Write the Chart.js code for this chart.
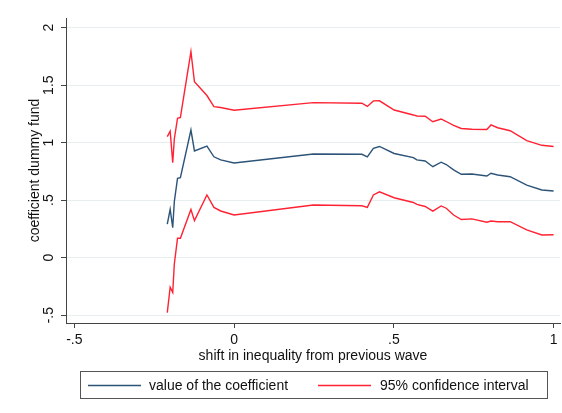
<!DOCTYPE html>
<html lang="en">
<head>
    <meta charset="UTF-8">
    <title>coefficient dummy fund</title>
    <script src="https://cdn.jsdelivr.net/npm/chart.js"></script>
    <style>
        body { margin: 0; background: #fff; }
    </style>
</head>
<body>
    <canvas id="coefChart" width="562" height="413"></canvas>

    <script>
        // shift in inequality from previous wave
        const shiftX = [-0.209, -0.200, -0.192, -0.187, -0.177, -0.168, -0.135, -0.124, -0.085, -0.063,
            -0.042, 0.000, 0.248, 0.400, 0.417, 0.436, 0.455, 0.501, 0.561, 0.572,
            0.598, 0.622, 0.648, 0.664, 0.687, 0.711, 0.744, 0.791, 0.804, 0.825,
            0.864, 0.916, 0.963, 1.000];
        const coefValues = [0.291, 0.421, 0.261, 0.487, 0.690, 0.696, 1.110, 0.928, 0.971, 0.877,
            0.850, 0.823, 0.902, 0.899, 0.877, 0.951, 0.967, 0.906, 0.870, 0.850,
            0.841, 0.791, 0.830, 0.810, 0.763, 0.725, 0.728, 0.710, 0.734, 0.719,
            0.704, 0.630, 0.589, 0.580];
        const upperCI = [1.052, 1.099, 0.826, 1.032, 1.212, 1.219, 1.791, 1.530, 1.410, 1.313,
            1.306, 1.282, 1.348, 1.343, 1.315, 1.363, 1.364, 1.284, 1.241, 1.232,
            1.230, 1.182, 1.206, 1.184, 1.150, 1.123, 1.117, 1.115, 1.154, 1.130,
            1.104, 1.017, 0.977, 0.967];
        const lowerCI = [-0.478, -0.257, -0.303, -0.055, 0.169, 0.169, 0.419, 0.322, 0.545, 0.437,
            0.406, 0.371, 0.458, 0.451, 0.438, 0.545, 0.573, 0.521, 0.480, 0.464,
            0.445, 0.404, 0.450, 0.430, 0.371, 0.332, 0.337, 0.308, 0.319, 0.313,
            0.313, 0.241, 0.197, 0.199];

        const xTickValues = [-0.5, 0, 0.5, 1];
        const xTickLabels = ['-.5', '0', '.5', '1'];
        const yTickValues = [-0.5, 0, 0.5, 1, 1.5, 2];
        const yTickLabels = ['-.5', '0', '.5', '1', '1.5', '2'];

        const BLUE = '#2c5378';
        const RED = '#ff2233';
        const AXIS = '#444';
        const FONT = '"Liberation Sans", Arial, Helvetica, sans-serif';

        const toPoints = ys => shiftX.map((x, i) => ({ x: x, y: ys[i] }));

        // y tick labels are drawn turned, like the original
        const yLabelsPlugin = {
            id: 'yLabels',
            afterDraw(chart) {
                const ctx = chart.ctx;
                const y = chart.scales.y;
                ctx.save();
                ctx.fillStyle = '#111';
                ctx.font = '14px ' + FONT;
                ctx.textAlign = 'center';
                ctx.textBaseline = 'middle';
                yTickValues.forEach((v, i) => {
                    ctx.save();
                    ctx.translate(y.right - 17, y.getPixelForValue(v));
                    ctx.rotate(-Math.PI / 2);
                    ctx.fillText(yTickLabels[i], 0, 0);
                    ctx.restore();
                });
                ctx.restore();
            }
        };

        // framed legend under the x axis
        const legendBoxPlugin = {
            id: 'legendBox',
            afterDraw(chart) {
                const ctx = chart.ctx;
                const items = [
                    { ds: chart.data.datasets[0], lineX: 88, textX: 149 },
                    { ds: chart.data.datasets[1], lineX: 318, textX: 380 }
                ];
                ctx.save();
                ctx.strokeStyle = '#555';
                ctx.lineWidth = 1;
                ctx.strokeRect(80.5, 371.5, 467, 27);
                ctx.font = '14px ' + FONT;
                ctx.textBaseline = 'middle';
                ctx.fillStyle = '#111';
                items.forEach(it => {
                    ctx.strokeStyle = it.ds.borderColor;
                    ctx.lineWidth = 1.4;
                    ctx.beginPath();
                    ctx.moveTo(it.lineX, 385.5);
                    ctx.lineTo(it.lineX + 53, 385.5);
                    ctx.stroke();
                    ctx.fillText(it.ds.label, it.textX, 386);
                });
                ctx.restore();
            }
        };

        const ctx = document.getElementById('coefChart').getContext('2d');
        const chart = new Chart(ctx, {
            type: 'line',
            data: {
                datasets: [{
                    label: 'value of the coefficient',
                    data: toPoints(coefValues),
                    borderColor: BLUE,
                    borderWidth: 1.4,
                    pointRadius: 0,
                    tension: 0
                }, {
                    label: '95% confidence interval',
                    data: toPoints(upperCI),
                    borderColor: RED,
                    borderWidth: 1.4,
                    pointRadius: 0,
                    tension: 0
                }, {
                    label: '95% confidence interval (lower)',
                    data: toPoints(lowerCI),
                    borderColor: RED,
                    borderWidth: 1.4,
                    pointRadius: 0,
                    tension: 0
                }]
            },
            options: {
                responsive: false,
                animation: false,
                layout: { padding: { top: 18, right: 2, bottom: 48, left: 0 } },
                plugins: {
                    legend: { display: false },
                    tooltip: { enabled: false }
                },
                scales: {
                    x: {
                        type: 'linear',
                        min: -0.526,
                        max: 1.02,
                        afterBuildTicks: s => { s.ticks = xTickValues.map(v => ({ value: v })); },
                        afterFit: s => { s.height = 42; },
                        grid: { drawOnChartArea: false, tickLength: 5, tickColor: AXIS },
                        border: { display: true, color: AXIS, width: 1 },
                        ticks: {
                            color: '#111',
                            font: { family: FONT, size: 14 },
                            padding: 4,
                            maxRotation: 0,
                            callback: (v, i) => xTickLabels[i]
                        },
                        title: {
                            display: true,
                            text: 'shift in inequality from previous wave',
                            color: '#111',
                            font: { family: FONT, size: 14 },
                            padding: { top: 0, bottom: 0 }
                        }
                    },
                    y: {
                        min: -0.568,
                        max: 2.084,
                        afterBuildTicks: s => { s.ticks = yTickValues.map(v => ({ value: v })); },
                        afterFit: s => { s.width = 66; },
                        grid: { color: '#e6eef0', lineWidth: 1, tickLength: 5, tickColor: AXIS },
                        border: { display: true, color: AXIS, width: 1 },
                        ticks: { display: false },
                        title: {
                            display: true,
                            text: 'coefficient dummy fund',
                            color: '#111',
                            font: { family: FONT, size: 14 },
                            padding: { top: 27, bottom: 0 }
                        }
                    }
                }
            },
            plugins: [yLabelsPlugin, legendBoxPlugin]
        });
    </script>
</body>
</html>
